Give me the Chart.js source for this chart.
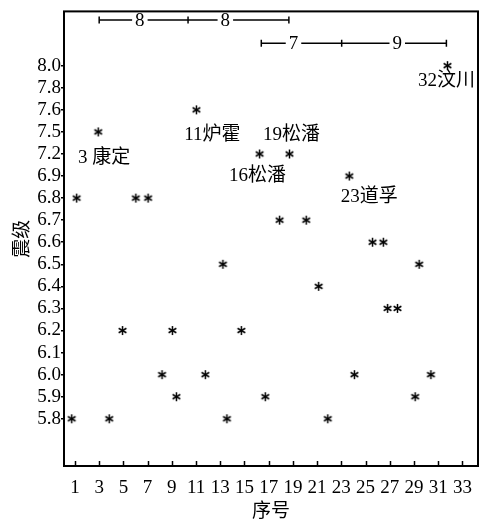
<!DOCTYPE html>
<html>
<head>
<meta charset="utf-8">
<script src="https://cdn.jsdelivr.net/npm/chart.js@4.4.1/dist/chart.umd.min.js"></script>
<style>
  html, body { margin: 0; padding: 0; background: #fff; }
  #wrap { width: 484px; height: 523px; }
</style>
</head>
<body>
<div id="wrap"><canvas id="quakeChart" width="484" height="523"></canvas></div>
<script>
// magnitude axis is ordinal: evenly spaced labels, not a linear scale
const yTicks = ['5.8', '5.9', '6.0', '6.1', '6.2', '6.3', '6.4', '6.5', '6.6', '6.7', '6.8', '6.9', '7.2', '7.5', '7.6', '7.8', '8.0'];
const xTicks = [1, 3, 5, 7, 9, 11, 13, 15, 17, 19, 21, 23, 25, 27, 29, 31, 33];

// where each quake sits along the 序号 axis
const seqPos = [0.73, 1.14, 2.92, 3.83, 4.93, 6.03, 7.04, 8.19, 9.05, 9.38, 11.03, 11.77, 13.22, 13.55, 14.74, 16.25,
                16.72, 17.9, 18.72, 20.1, 21.13, 21.88, 23.66, 24.08, 25.58, 26.47, 26.82, 27.64, 29.1, 29.43, 30.4, 31.77];
const magnitudes = [5.8, 6.8, 7.5, 5.8, 6.2, 6.8, 6.8, 6.0, 6.2, 5.9, 7.6, 6.0, 6.5, 5.8, 6.2, 7.2,
                    5.9, 6.7, 7.2, 6.7, 6.4, 5.8, 6.9, 6.0, 6.6, 6.6, 6.3, 6.3, 5.9, 6.5, 6.0, 8.0];

// labelled events (1-based sequence number) and their names
const noteSeq = [3, 11, 16, 19, 23, 32];
const noteText = ['3 康定', '11炉霍', '16松潘', '19松潘', '23道孚', '32汶川'];

// interval bars at the top
const spanA = [3.0, 10.34, 18.67];
const spanALabels = ['8', '8'];
const spanALabelX = [6.36, 13.42];
const spanB = [16.39, 23.03, 31.68];
const spanBLabels = ['7', '9'];
const spanBLabelX = [19.05, 27.62];

const FONT = "'Liberation Serif', 'Noto Sans CJK SC', serif";
const levelA = 18.07, levelB = 17.02;

function makeStar(r) {
    const c = document.createElement('canvas');
    const s = Math.ceil(r * 2 + 2);
    c.width = c.height = s;
    const g = c.getContext('2d');
    g.strokeStyle = '#000';
    g.lineWidth = 1.5;
    g.translate(s / 2, s / 2);
    for (let k = 0; k < 3; k++) {
        const a = Math.PI / 2 + k * Math.PI / 3;
        g.beginPath();
        g.moveTo(Math.cos(a) * r, Math.sin(a) * r);
        g.lineTo(-Math.cos(a) * r, -Math.sin(a) * r);
        g.stroke();
    }
    return c;
}
const star = makeStar(4.5);

const points = seqPos.map((x, i) => ({ x: x, y: yTicks.indexOf(magnitudes[i].toFixed(1)) }));

function spanData(xs, level) {
    return xs.map(x => ({ x: x, y: level }));
}

const spanStyle = {
    showLine: true,
    borderColor: '#000',
    borderWidth: 1.5,
    pointStyle: 'line',
    rotation: 90,
    pointRadius: 3.5,
    pointBorderWidth: 1.5,
    pointBorderColor: '#000'
};

// offsets of each place label from its point, in px
const noteOffset = [[6, 26], [16, 25], [-2, 22], [2, -19], [20, 21], [-1, 15]];

const decor = {
    id: 'decor',
    afterDatasetsDraw(chart) {
        const { ctx, chartArea: a, scales } = chart;
        const xs = scales.x, ys = scales.y;
        ctx.save();
        ctx.fillStyle = '#000';
        ctx.font = '19px ' + FONT;
        ctx.textAlign = 'center';
        ctx.textBaseline = 'middle';

        // place names under / above the points
        const meta = chart.getDatasetMeta(0);
        noteSeq.forEach((n, k) => {
            const el = meta.data[n - 1];
            ctx.fillText(noteText[k], el.x + noteOffset[k][0], el.y + noteOffset[k][1]);
        });

        // interval labels over the bars
        const putLabel = (txt, xv, level) => {
            const px = xs.getPixelForValue(xv), py = ys.getPixelForValue(level);
            const w = ctx.measureText(txt).width + 6;
            ctx.fillStyle = '#fff';
            ctx.fillRect(px - w / 2, py - 3, w, 6);
            ctx.fillStyle = '#000';
            ctx.fillText(txt, px, py + 1);
        };
        spanALabels.forEach((t, i) => putLabel(t, spanALabelX[i], levelA));
        spanBLabels.forEach((t, i) => putLabel(t, spanBLabelX[i], levelB));

        // inward x ticks
        ctx.strokeStyle = '#000';
        ctx.lineWidth = 1.5;
        xTicks.forEach(v => {
            const px = Math.round(xs.getPixelForValue(v)) + 0.5;
            ctx.beginPath();
            ctx.moveTo(px, a.bottom);
            ctx.lineTo(px, a.bottom - 5);
            ctx.stroke();
        });

        // box
        ctx.lineWidth = 2;
        ctx.strokeRect(a.left, a.top, a.right - a.left, a.bottom - a.top);
        ctx.restore();
    }
};

const quakeChart = new Chart(document.getElementById('quakeChart').getContext('2d'), {
    type: 'scatter',
    data: {
        datasets: [{
            data: points,
            pointStyle: star,
            pointRadius: 5
        }, {
            data: spanData(spanA, levelA),
            ...spanStyle
        }, {
            data: spanData(spanB, levelB),
            ...spanStyle
        }]
    },
    options: {
        responsive: false,
        animation: false,
        devicePixelRatio: 1,
        layout: { padding: { left: 0, top: 8, right: 5, bottom: 0 } },
        plugins: {
            legend: { display: false },
            tooltip: { enabled: false }
        },
        scales: {
            x: {
                type: 'linear',
                min: 0.094,
                max: 34.29,
                afterBuildTicks: s => { s.ticks = xTicks.map(v => ({ value: v })); },
                afterFit: s => { s.height = 57; },
                border: { display: false },
                grid: { display: false },
                ticks: {
                    autoSkip: false,
                    maxRotation: 0,
                    padding: 3,
                    color: '#000',
                    font: { family: FONT, size: 19 }
                },
                title: {
                    display: true,
                    text: '序号',
                    color: '#000',
                    font: { family: FONT, size: 19 },
                    padding: { top: 0, bottom: 0 }
                }
            },
            y: {
                type: 'linear',
                min: -2.14,
                max: 18.46,
                afterBuildTicks: s => { s.ticks = yTicks.map((_, i) => ({ value: i })); },
                afterFit: s => { s.width = 64; },
                border: { display: false },
                grid: {
                    drawOnChartArea: false,
                    drawTicks: true,
                    tickLength: 3,
                    color: '#000',
                    lineWidth: 1.5
                },
                ticks: {
                    padding: 0,
                    color: '#000',
                    font: { family: FONT, size: 19 },
                    callback: v => yTicks[v]
                },
                title: {
                    display: true,
                    text: '震级',
                    color: '#000',
                    font: { family: FONT, size: 19 },
                    padding: { top: 12, bottom: 0 }
                }
            }
        }
    },
    plugins: [decor]
});
</script>
</body>
</html>
